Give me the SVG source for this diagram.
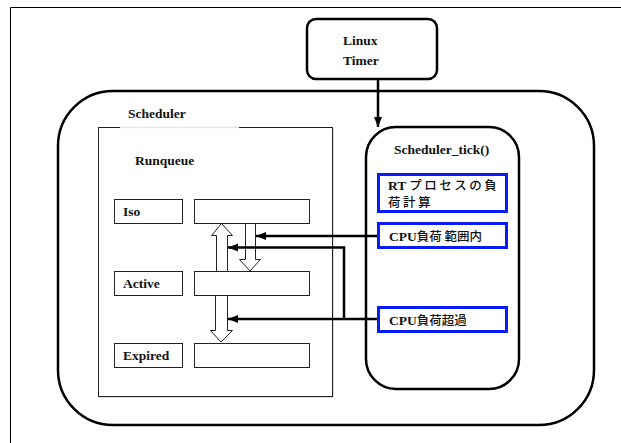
<svg xmlns="http://www.w3.org/2000/svg" width="621" height="443" viewBox="0 0 621 443">
  <defs>
    <marker id="head" viewBox="0 0 10 10" refX="10" refY="5" markerWidth="4" markerHeight="4" orient="auto" markerUnits="strokeWidth">
      <path d="M0,1 L10,5 L0,9 Z" fill="#000"/>
    </marker>
    <style>
      .lbl { font-family: "Liberation Serif", "Noto Sans CJK JP", serif; font-weight: bold; font-size: 13.5px; fill: #111; }
      .jp { font-family: "Liberation Serif", "Noto Sans CJK JP", serif; font-weight: bold; font-size: 13.5px; fill: #111; }
      .cjk { font-family: "Noto Sans CJK JP", sans-serif; font-weight: 500; font-size: 12.5px; }
      .thick { fill: #fff; stroke: #000; stroke-width: 2.5; }
      .thin { fill: #fff; stroke: #222; stroke-width: 1; }
      .blue { fill: #fff; stroke: #0a1cf5; stroke-width: 3; }
      .hollow { fill: #fff; stroke: #222; stroke-width: 1; }
      .wire { fill: none; stroke: #000; stroke-width: 2.5; }
    </style>
  </defs>

  <rect width="621" height="443" fill="#fff"/>
  <!-- page frame -->
  <path d="M10.5,443 V7.5 H621" fill="none" stroke="#000" stroke-width="1"/>

  <!-- scheduler container -->
  <g id="scheduler">
    <rect class="thick" x="58" y="91" width="536" height="334" rx="55" ry="55"/>
    <text class="lbl" x="128" y="118">Scheduler</text>
  </g>

  <!-- runqueue -->
  <g id="runqueue">
    <rect x="99.5" y="128.5" width="234" height="269" fill="#bbb"/>
    <rect class="thin" x="98.5" y="127.5" width="234" height="269"/>
    <line x1="120" y1="127.5" x2="239" y2="127.5" stroke="#e6e6e6" stroke-width="1.5"/>
    <text class="lbl" x="135" y="165">Runqueue</text>
  </g>

  <g id="iso">
    <rect class="thin" x="114.5" y="199.5" width="68" height="24"/>
    <text class="lbl" x="123" y="216">Iso</text>
    <rect class="thin" x="194.5" y="199.5" width="115" height="24"/>
  </g>
  <g id="active">
    <rect class="thin" x="114.5" y="271.5" width="68" height="24"/>
    <text class="lbl" x="123" y="288">Active</text>
    <rect class="thin" x="194.5" y="271.5" width="115" height="24"/>
  </g>
  <g id="expired">
    <rect class="thin" x="114.5" y="343.5" width="68" height="24"/>
    <text class="lbl" x="123" y="360">Expired</text>
    <rect class="thin" x="194.5" y="343.5" width="115" height="24"/>
  </g>

  <!-- queue transfer arrows -->
  <g id="transfers">
    <path class="hollow" d="M216.5,271.5 V235.5 H211.5 L221.5,223.5 L232.5,235.5 H227.5 V271.5 Z"/>
    <path class="hollow" d="M245.5,223.5 V259.5 H239.5 L250,271 L260.5,259.5 H255.5 V223.5 Z"/>
    <path class="hollow" d="M215.5,295.5 V330.5 H210.5 L221,342 L232.5,330.5 H227.5 V295.5 Z"/>
  </g>

  <!-- timer -->
  <g id="linux-timer">
    <rect class="thick" x="307" y="19" width="130" height="60" rx="9" ry="9"/>
    <text class="lbl" x="343" y="45">Linux</text>
    <text class="lbl" x="343" y="65">Timer</text>
  </g>

  <!-- tick handler -->
  <g id="scheduler-tick">
    <rect class="thick" x="366" y="127" width="153" height="262" rx="30" ry="30"/>
    <text class="lbl" x="394" y="154">Scheduler_tick()</text>
  </g>
  <g id="rt-load">
    <rect class="blue" x="378.5" y="174.5" width="128" height="37"/>
    <text class="jp" x="388" y="190">RT<tspan class="cjk" letter-spacing="2.5" dx="3">プロセスの負</tspan></text>
    <text class="jp" x="388" y="207"><tspan class="cjk" letter-spacing="2.5">荷計算</tspan></text>
  </g>
  <g id="cpu-in-range">
    <rect class="blue" x="378.5" y="223.5" width="128" height="24"/>
    <text class="jp" x="389" y="241">CPU<tspan class="cjk">負荷 範囲内</tspan></text>
  </g>
  <g id="cpu-over">
    <rect class="blue" x="378.5" y="307.5" width="128" height="24"/>
    <text class="jp" x="389" y="325">CPU<tspan class="cjk">負荷超過</tspan></text>
  </g>

  <!-- connectors -->
  <g id="connectors">
    <path class="wire" d="M378,79 V127" marker-end="url(#head)"/>
    <path class="wire" d="M377,236 H256" marker-end="url(#head)"/>
    <path class="wire" d="M344,319 V247.5 H228" marker-end="url(#head)"/>
    <path class="wire" d="M377,319 H228" marker-end="url(#head)"/>
  </g>
</svg>
